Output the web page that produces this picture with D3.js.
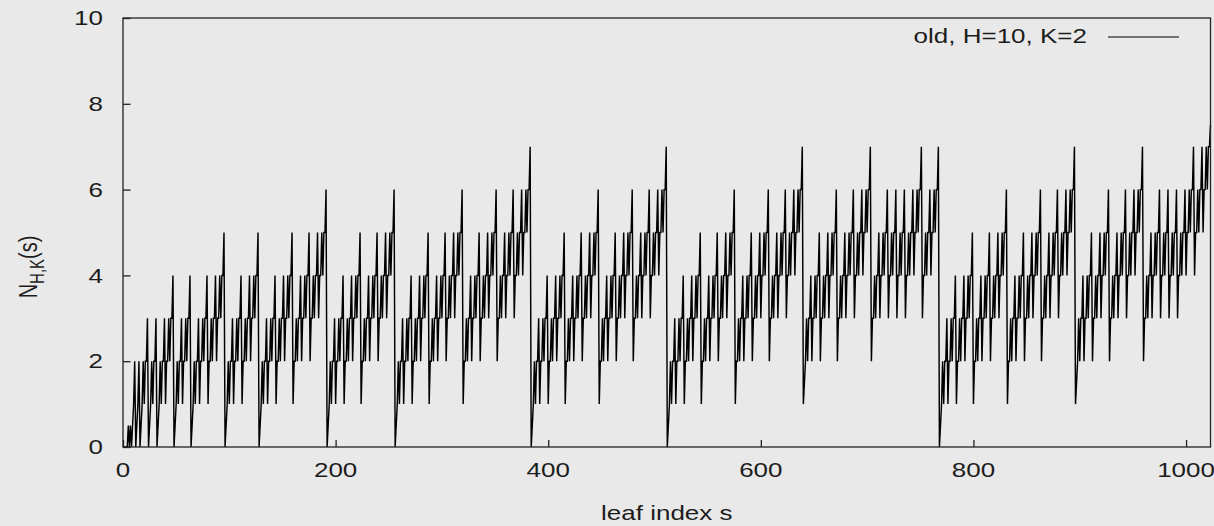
<!DOCTYPE html>
<html>
<head>
<meta charset="utf-8">
<script src="https://cdn.jsdelivr.net/npm/d3@7"></script>
<style>
  html, body { margin: 0; padding: 0; background: #e9e9e9; }
  svg { display: block; }
  text { font-family: "Liberation Sans", Arial, Helvetica, sans-serif; fill: #1c1c1c; }
</style>
</head>
<body>
<svg id="chart" width="1214" height="526"></svg>
<script>
// ---- data (one digit per leaf, 64 leaves per row) ----
const valueRows = [
  "0000010101120112011212230112122301121223122323340112122312232334", // s 0-63
  "0112122312232334122323342334344501121223122323341223233423343445", // s 64-127
  "0112122312232334122323342334344512232334233434452334344534454556", // s 128-191
  "0112122312232334122323342334344512232334233434452334344534454556", // s 192-255
  "0112122312232334122323342334344512232334233434452334344534454556", // s 256-319
  "1223233423343445233434453445455623343445344545563445455645565667", // s 320-383
  "0112122312232334122323342334344512232334233434452334344534454556", // s 384-447
  "1223233423343445233434453445455623343445344545563445455645565667", // s 448-511
  "0112122312232334122323342334344512232334233434452334344534454556", // s 512-575
  "1223233423343445233434453445455623343445344545563445455645565667", // s 576-639
  "1223233423343445233434453445455623343445344545563445455645565667", // s 640-703
  "2334344534454556344545563445455634454556455656673445455645565667", // s 704-767
  "0112122312232334122323342334344512232334233434452334344534454556", // s 768-831
  "1223233423343445233434453445455623343445344545563445455645565667", // s 832-895
  "1223233423343445233434453445455623343445344545563445455645565667", // s 896-959
  "2334344534454556344545563445455634454556455656674556566756676778"  // s 960-1023
];
// leaves whose value sits half a unit below the digit above (read from half-step levels)
const halfBelow = [5, 7, 9, 13, 17, 25, 33, 49, 65, 97, 129, 193, 257, 385, 513, 641, 769, 897, 1023];

const xTicks = [0, 200, 400, 600, 800, 1000];
const yTicks = [0, 2, 4, 6, 8, 10];
const legendLabel = "old, H=10, K=2";
const xTitle = "leaf index s";

// ---- build series ----
const halfSet = new Set(halfBelow);
const values = [];
valueRows.forEach(row => { for (const ch of row) values.push(+ch); });
const series = values.map((v, i) => ({ s: i, v: halfSet.has(i) ? v - 0.5 : v }));

// ---- layout ----
const svg = d3.select("#chart");
const L = 123, R = 1210.5, T = 18, B = 447;
const stretch = 1.3;

const x = d3.scaleLinear().domain([0, 1023]).range([L, R]);
const y = d3.scaleLinear().domain([0, 10]).range([B, T]);

svg.append("rect").attr("width", 1214).attr("height", 526).attr("fill", "#e9e9e9");

// data line
svg.append("path")
  .datum(series)
  .attr("fill", "none")
  .attr("stroke", "#000")
  .attr("stroke-width", 1.45)
  .attr("stroke-linejoin", "miter")
  .attr("d", d3.line().x(d => x(d.s)).y(d => y(d.v)));

// frame
svg.append("rect")
  .attr("x", L).attr("y", T).attr("width", R - L).attr("height", B - T)
  .attr("fill", "none").attr("stroke", "#222").attr("stroke-width", 1.3);

// axes (ticks pointing inward)
const xAxis = d3.axisBottom(x).tickValues(xTicks).tickSize(-7).tickPadding(0).tickFormat(() => "");
const gx = svg.append("g").attr("transform", `translate(0,${B})`).call(xAxis);
const yAxis = d3.axisLeft(y).tickValues(yTicks).tickSize(-7.5).tickFormat(() => "");
const gy = svg.append("g").attr("transform", `translate(${L},0)`).call(yAxis);
[gx, gy].forEach(g => {
  g.select(".domain").remove();
  g.selectAll(".tick line").attr("stroke", "#222").attr("stroke-width", 1.3);
});

function stretchedText(px, py, str, anchor, size) {
  return svg.append("text")
    .attr("transform", `translate(${px},${py}) scale(${stretch},1)`)
    .attr("text-anchor", anchor)
    .attr("font-size", size)
    .text(str);
}

// tick labels
xTicks.forEach(t => stretchedText(x(t), 477, String(t), "middle", 20));
yTicks.forEach(t => stretchedText(103, y(t) + 7.2, String(t), "end", 20));

// axis titles
stretchedText((L + R) / 2, 520, xTitle, "middle", 20);

const yt = svg.append("text")
  .attr("transform", `translate(37,267) scale(${stretch},1) rotate(-90)`)
  .attr("text-anchor", "middle")
  .attr("font-size", 20);
yt.append("tspan").text("N");
yt.append("tspan").attr("font-size", 15).attr("dy", 5).text("H,K");
yt.append("tspan").attr("dy", -5).text("(s)");

// legend
stretchedText(1087, 43, legendLabel, "end", 20);
svg.append("line")
  .attr("x1", 1108).attr("x2", 1179).attr("y1", 37).attr("y2", 37)
  .attr("stroke", "#000").attr("stroke-width", 1.2);
</script>
</body>
</html>
